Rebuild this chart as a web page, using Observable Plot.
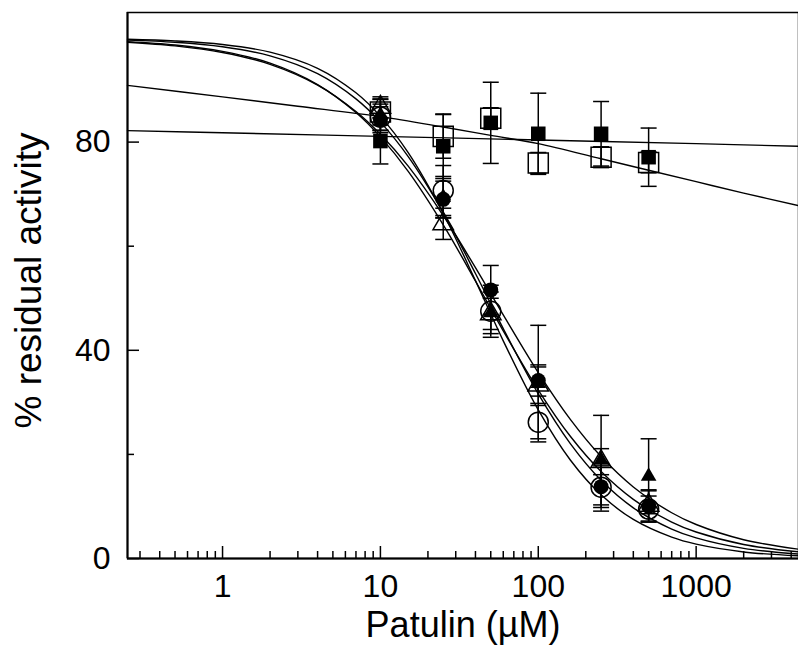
<!DOCTYPE html>
<html><head><meta charset="utf-8">
<script src="https://cdn.jsdelivr.net/npm/d3@7"></script>
<script src="https://cdn.jsdelivr.net/npm/@observablehq/plot@0.6"></script>
<style>body{margin:0;background:#fff}</style>
</head><body><div id="chart"></div>
<script>
// Patulin concentrations (µM)
const conc = [10, 25, 50, 100, 250, 500];
// Measured points (% residual activity) and error bars
const fsqY   = [80.2, 79.2, 83.7, 81.6, 81.6, 77.1];
const fsqErr = [4.4, 6.2, 7.8, 7.8, 6.2, 5.6];
const osqY   = [85.8, 81.1, 84.6, 76.0, 77.1, 76.1];
const osqErr = [2.5, 4.2, 2.0, 2.0, 2.0, 2.0];
const fcY    = [84.3, 69.0, 51.6, 34.2, 13.8, 10.0];
const fcErr  = [2.5, 3.5, 4.7, 3.0, 4.0, 3.0];
const ocY    = [84.8, 70.7, 47.5, 26.2, 13.7, 9.5];
const ocErr  = [2.5, 4.8, 5.0, 3.2, 4.6, 2.5];
const ftY    = [85.2, 69.4, 47.2, 33.6, 18.9, 15.8];
const ftErr  = [3.0, 4.0, 4.0, 11.2, 8.6, 7.2];
const otY    = [86.7, 64.3, 47.0, 33.3, 18.6, 10.2];
const otErr  = [2.0, 3.0, 3.0, 3.5, 2.5, 3.0];

// Fitted curves
const curveX  = [0.25, 0.5, 1, 2, 4, 7, 10, 15, 25, 40, 60, 100, 160, 250, 400, 700, 1000, 2000, 4450];
const fcCurve = [99.6, 99.18, 98.31, 96.57, 93.14, 88.3, 83.84, 77.22, 66.47, 54.76, 44.17, 31.63, 22.03, 15.03, 9.74, 5.66, 3.96, 1.95, 0.85];
const ocCurve = [99.75, 99.44, 98.76, 97.29, 94.18, 89.47, 84.94, 77.97, 66.29, 53.39, 41.82, 28.54, 18.87, 12.23, 7.5, 4.09, 2.75, 1.26, 0.51];
const ftCurve = [99.19, 98.49, 97.22, 94.94, 90.96, 85.87, 81.5, 75.38, 65.9, 55.87, 46.79, 35.7, 26.67, 19.58, 13.75, 8.79, 6.53, 3.61, 1.79];
const otCurve = [99.3, 98.66, 97.44, 95.17, 91.06, 85.68, 81.0, 74.37, 64.1, 53.32, 43.74, 32.36, 23.43, 16.7, 11.36, 7.0, 5.09, 2.7, 1.28];
const dlX = [0.25, 1, 3, 10, 25, 50, 100, 250, 500, 1000, 2000, 4450];
const dlY = [90.9, 88.7, 86.9, 84.9, 82.9, 81.3, 79.7, 76.8, 74.6, 72.4, 70.2, 67.8];
const flX = [0.25, 1, 10, 100, 1000, 4450];
const flY = [82.2, 81.8, 81.1, 80.4, 79.7, 79.2];

// Axis ticks
const xMajor = [1, 10, 100, 1000];
const xMinor = [0.3,0.4,0.5,0.6,0.7,0.8,0.9, 2,3,4,5,6,7,8,9, 20,30,40,50,60,70,80,90, 200,300,400,500,600,700,800,900, 2000,3000,4000];
const yMajor = [0, 40, 80];
const yMinor = [20, 60];

const xTitle = "Patulin (µM)";
const yTitle = "% residual activity";

const mk = (ys, es) => conc.map((c, i) => ({x: c, y: ys[i], err: es[i]}));
const series = {
  fsq: mk(fsqY, fsqErr), osq: mk(osqY, osqErr),
  fc: mk(fcY, fcErr), oc: mk(ocY, ocErr),
  ft: mk(ftY, ftErr), ot: mk(otY, otErr)
};
const allPts = Object.values(series).flat();

const curves = [
  {s: "fc", x: curveX, y: fcCurve}, {s: "oc", x: curveX, y: ocCurve},
  {s: "ft", x: curveX, y: ftCurve}, {s: "ot", x: curveX, y: otCurve},
  {s: "osq", x: dlX, y: dlY}, {s: "fsq", x: flX, y: flY}
];
const curveRows = curves.flatMap(c => c.x.map((x, i) => ({s: c.s, x, y: c.y[i]})));

const hline = {draw(ctx, size) { const r = Math.sqrt(size / Math.PI); ctx.moveTo(-r, 0); ctx.lineTo(r, 0); }};

const sw = 1.5;
const chart = Plot.plot({
  width: 798, height: 657,
  marginLeft: 127, marginRight: 0, marginTop: 12, marginBottom: 99,
  style: {fontFamily: "'Liberation Sans', Arial, sans-serif", background: "#fff", color: "black"},
  x: {type: "log", domain: [0.25, 4450]},
  y: {domain: [0, 104.9]},
  marks: [
    Plot.frame({stroke: "black", strokeWidth: 1.5}),
    Plot.ruleY([0], {stroke: "black", strokeWidth: 2}),
    Plot.ruleX([0.25], {stroke: "black", strokeWidth: 2}),
    Plot.axisX({ticks: xMinor, tickSize: 7, dy: -7, tickFormat: () => "", label: null, strokeWidth: sw}),
    Plot.axisX({ticks: xMajor, tickSize: 12, dy: -12, tickFormat: () => "", label: null, strokeWidth: sw}),
    Plot.axisX({ticks: xMajor, tickSize: 0, tickPadding: 16, fontSize: 32, tickFormat: d => String(d), label: null}),
    Plot.axisY({ticks: yMinor, tickSize: 7, dx: 7, tickFormat: () => "", label: null, strokeWidth: sw}),
    Plot.axisY({ticks: yMajor, tickSize: 12, dx: 12, tickFormat: () => "", label: null, strokeWidth: sw}),
    Plot.axisY({ticks: yMajor, tickSize: 0, tickPadding: 17, fontSize: 32, tickFormat: d => String(d), label: null}),
    Plot.text([xTitle], {frameAnchor: "bottom", dy: 78, fontSize: 36, textAnchor: "middle", text: d => d, fill: "black"}),
    Plot.text([yTitle], {frameAnchor: "left", dx: -98, dy: -5, rotate: -90, textAnchor: "middle", fontSize: 37, text: d => d, fill: "black"}),
    Plot.line(curveRows, {x: "x", y: "y", z: "s", stroke: "black", strokeWidth: 1.4, curve: "catmull-rom"}),
    Plot.ruleX(allPts, {x: "x", y1: d => d.y - d.err, y2: d => d.y + d.err, stroke: "black", strokeWidth: sw}),
    Plot.dot(allPts, {x: "x", y: d => d.y + d.err, symbol: hline, r: 8, stroke: "black", strokeWidth: sw}),
    Plot.dot(allPts, {x: "x", y: d => d.y - d.err, symbol: hline, r: 8, stroke: "black", strokeWidth: sw}),
    Plot.dot(series.osq, {x: "x", y: "y", symbol: "square", r: 11.3, fill: "none", stroke: "black", strokeWidth: sw}),
    Plot.dot(series.oc, {x: "x", y: "y", symbol: "circle", r: 10, fill: "none", stroke: "black", strokeWidth: sw}),
    Plot.dot(series.ot, {x: "x", y: "y", symbol: "triangle", r: 7.6, fill: "none", stroke: "black", strokeWidth: sw}),
    Plot.dot(series.fsq, {x: "x", y: "y", symbol: "square", r: 8.2, fill: "black", stroke: "none"}),
    Plot.dot(series.fc, {x: "x", y: "y", symbol: "circle", r: 7.5, fill: "black", stroke: "none"}),
    Plot.dot(series.ft, {x: "x", y: "y", symbol: "triangle", r: 5.8, fill: "black", stroke: "none"})
  ]
});
document.getElementById("chart").appendChild(chart);
</script>
</body></html>
